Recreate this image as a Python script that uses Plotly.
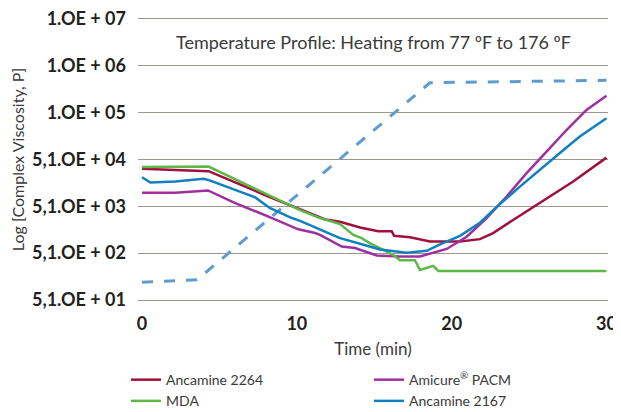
import plotly.graph_objects as go

# ---- data (log10 of complex viscosity, P) ----
t_2264 = [0, 4.30, 8.17, 10.21, 11.83, 12.79, 14.08, 15.26, 16.13, 16.28, 17.31, 18.60, 19.89, 20.54, 21.83, 22.68, 23.97, 25.70, 27.85, 30.0]
v_2264 = [3.80, 3.75, 3.21, 2.94, 2.72, 2.67, 2.55, 2.47, 2.47, 2.37, 2.34, 2.25, 2.24, 2.25, 2.30, 2.43, 2.71, 3.07, 3.53, 4.04]

t_mda = [0, 4.30, 10.21, 11.50, 12.79, 13.65, 14.19, 14.73, 15.59, 16.23, 16.66, 17.63, 17.95, 18.81, 19.14, 30.0]
v_mda = [3.84, 3.85, 2.92, 2.75, 2.62, 2.39, 2.32, 2.21, 2.07, 1.96, 1.85, 1.85, 1.64, 1.73, 1.62, 1.62]

t_pacm = [0, 2.15, 4.26, 6.02, 8.17, 10.10, 11.18, 11.50, 12.90, 13.76, 15.16, 16.66, 17.95, 19.25, 19.68, 20.97, 22.26, 23.55, 24.84, 26.13, 27.42, 28.71, 30.0]
v_pacm = [3.29, 3.29, 3.34, 3.07, 2.78, 2.51, 2.43, 2.39, 2.14, 2.11, 1.95, 1.93, 1.93, 2.04, 2.09, 2.35, 2.75, 3.21, 3.71, 4.17, 4.63, 5.06, 5.36]

t_2167 = [0, 0.54, 2.15, 3.97, 4.41, 7.31, 8.28, 9.68, 10.21, 11.50, 12.79, 14.08, 15.37, 17.10, 18.39, 19.25, 20.54, 21.83, 23.12, 24.41, 25.70, 26.99, 28.28, 30.0]
v_2167 = [3.62, 3.51, 3.53, 3.59, 3.55, 3.19, 2.96, 2.75, 2.69, 2.51, 2.32, 2.20, 2.08, 2.01, 2.05, 2.19, 2.37, 2.65, 3.05, 3.42, 3.79, 4.14, 4.49, 4.88]

t_temp = [0, 3.55, 18.60, 30.0]
v_temp = [1.38, 1.43, 5.64, 5.69]

y_tickvals = [1, 2, 3, 4, 5, 6, 7]
y_ticktext = ["5,1.OE + 01", "5,1.OE + 02", "5,1.OE + 03", "5,1.OE + 04",
              "1.OE + 05", "1.OE + 06", "1.OE + 07"]
x_tickvals = [0, 10, 20, 30]

FONT = "Lato"
TXT = "#3a3a3a"
GRID = "#9e958f"

fig = go.Figure()
fig.add_trace(go.Scatter(x=t_temp, y=v_temp, mode="lines", showlegend=False,
                         line=dict(color="#5e9bcf", width=3, dash="11px,11px")))
fig.add_trace(go.Scatter(x=t_2264, y=v_2264, mode="lines", name="Ancamine 2264",
                         line=dict(color="#a0103c", width=2.5)))
fig.add_trace(go.Scatter(x=t_pacm, y=v_pacm, mode="lines", name="Amicure<sup>®</sup> PACM",
                         line=dict(color="#9e2fa0", width=2.5)))
fig.add_trace(go.Scatter(x=t_mda, y=v_mda, mode="lines", name="MDA",
                         line=dict(color="#5db848", width=2.5)))
fig.add_trace(go.Scatter(x=t_2167, y=v_2167, mode="lines", name="Ancamine 2167",
                         line=dict(color="#1080c0", width=2.5)))

# page has an 8px body margin, so the figure is 613x404 placed at (8, 8)
fig.update_layout(
    width=613, height=404,
    margin=dict(l=130, r=13, t=11, b=112, autoexpand=False),
    paper_bgcolor="white", plot_bgcolor="white",
    font=dict(family=FONT, color=TXT),
    xaxis=dict(range=[-0.26, 30.1], tickvals=x_tickvals, showgrid=False, zeroline=False,
               showline=True, mirror=True, linecolor=GRID, linewidth=1.3,
               ticks="", automargin=False, ticklabelstandoff=7,
               ticklabeloverflow="allow",
               tickfont=dict(family=FONT, size=18, color="#231f20", weight="bold"),
               title=dict(text="Time (min)", font=dict(size=17, color=TXT), standoff=10)),
    yaxis=dict(range=[1, 7], tickvals=y_tickvals, ticktext=y_ticktext, showgrid=True,
               gridcolor=GRID, gridwidth=1.3, zeroline=False, showline=False, ticks="",
               ticklabelstandoff=11, automargin=False, ticklabeloverflow="allow",
               tickfont=dict(family=FONT, size=18, color="#231f20", weight="bold"),
               title=dict(text="Log [Complex Viscosity, P]", font=dict(size=16, color=TXT))),
    legend=dict(orientation="h", x=-0.0255, xanchor="left", y=-0.228, yanchor="top",
                entrywidth=198, font=dict(size=14, color=TXT), tracegroupgap=0,
                traceorder="normal"),
    annotations=[dict(text="Temperature Profile: Heating from 77 ºF to 176 ºF",
                      xref="paper", yref="paper", x=0.5, y=0.919, xanchor="center", yanchor="middle",
                      showarrow=False, font=dict(size=18, color=TXT))],
)

fig.write_html("out.html")
